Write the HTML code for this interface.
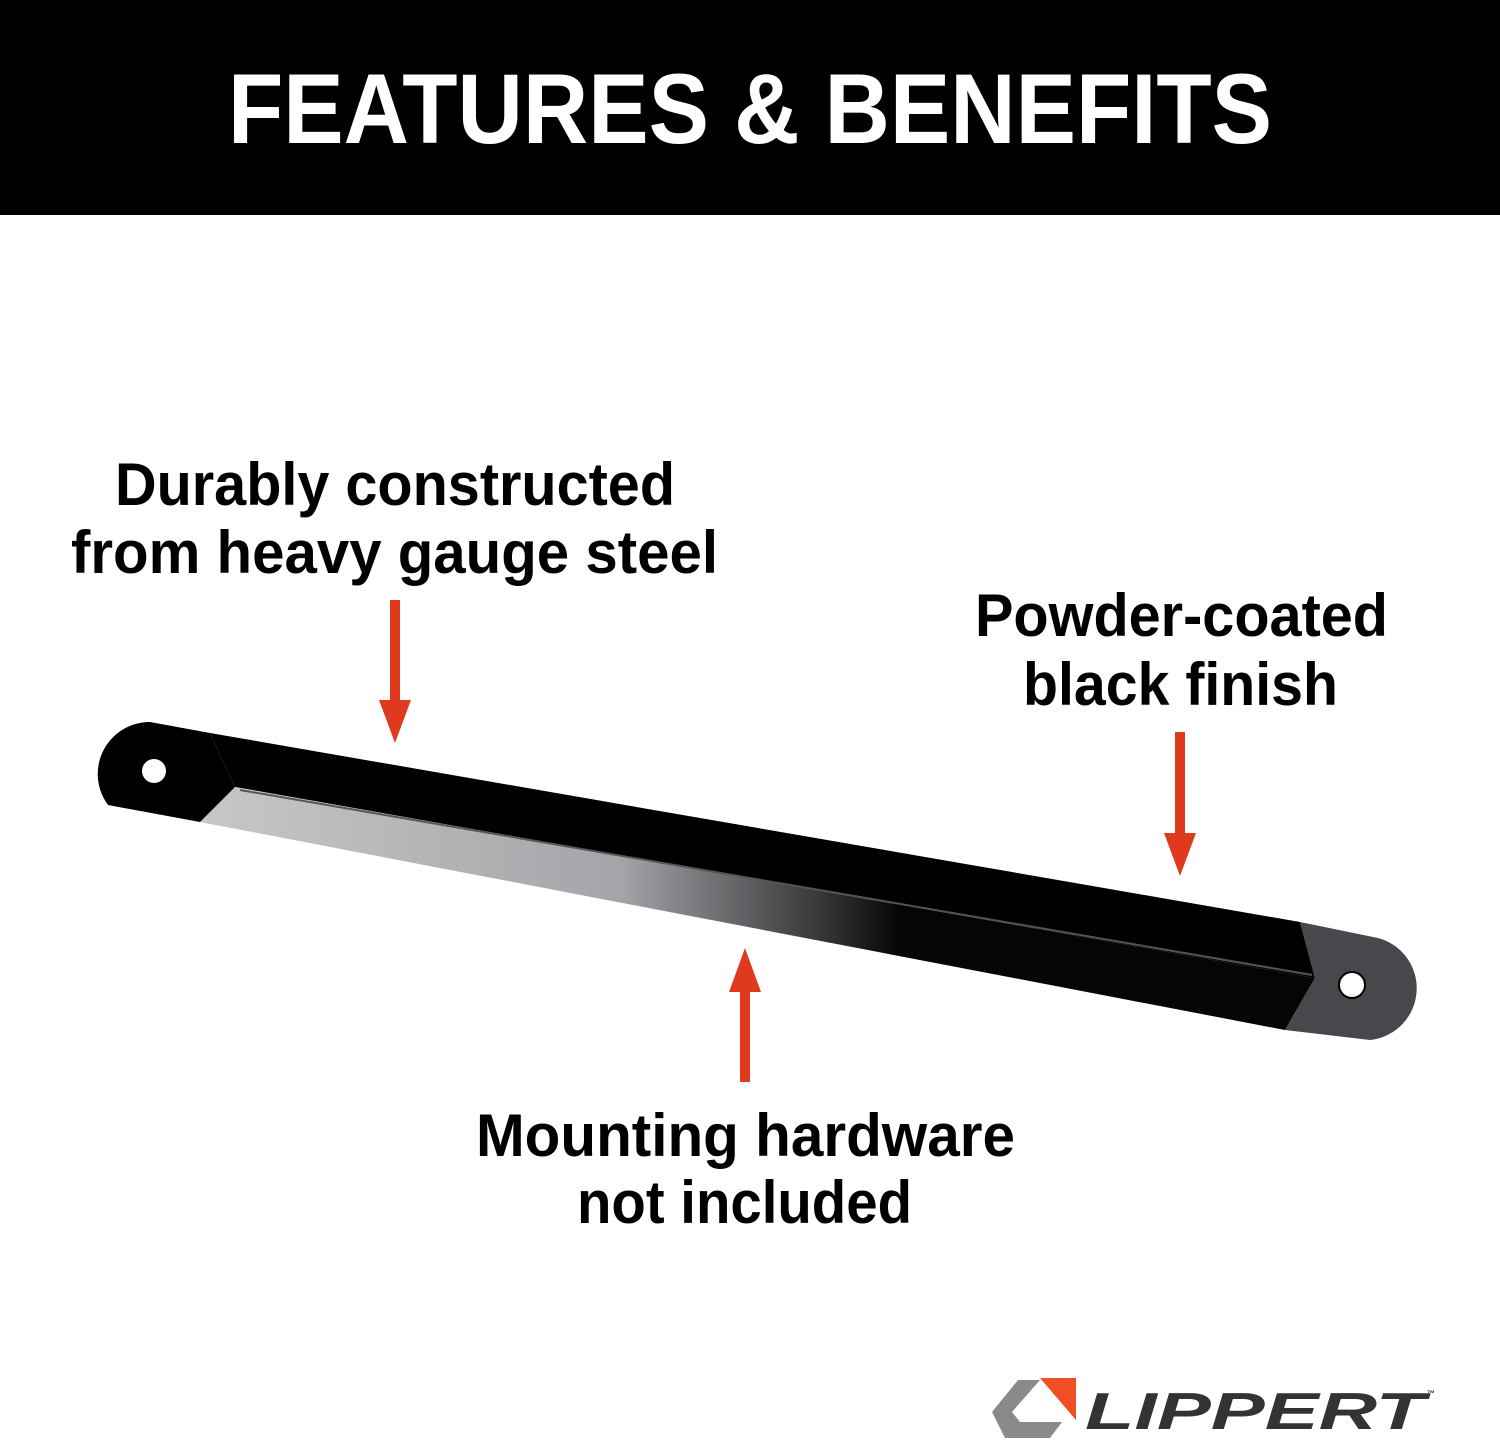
<!DOCTYPE html>
<html><head><meta charset="utf-8"><style>
html,body{margin:0;padding:0;background:#fff;}
svg{display:block;}
text{font-family:"Liberation Sans",sans-serif;font-weight:bold;}
</style></head><body>
<svg width="1500" height="1443" viewBox="0 0 1500 1443" xmlns="http://www.w3.org/2000/svg">
<defs>
<linearGradient id="g1" x1="200" y1="0" x2="900" y2="0" gradientUnits="userSpaceOnUse">
<stop offset="0" stop-color="#c8c6c8"/><stop offset="0.6" stop-color="#a6a4a8"/><stop offset="0.88" stop-color="#3a393c"/><stop offset="1" stop-color="#050505"/>
</linearGradient>
</defs>
<rect x="0" y="0" width="1500" height="215" fill="#000"/>
<text x="228" y="143" font-size="99" fill="#fff" textLength="1044" lengthAdjust="spacingAndGlyphs">FEATURES &amp; BENEFITS</text>

<text x="115" y="505" font-size="60" fill="#000" textLength="560" lengthAdjust="spacingAndGlyphs">Durably constructed</text>
<text x="71" y="573" font-size="60" fill="#000" textLength="647" lengthAdjust="spacingAndGlyphs">from heavy gauge steel</text>
<text x="975" y="636" font-size="60" fill="#000" textLength="413" lengthAdjust="spacingAndGlyphs">Powder-coated</text>
<text x="1023" y="705" font-size="60" fill="#000" textLength="315" lengthAdjust="spacingAndGlyphs">black finish</text>
<text x="476" y="1156" font-size="60" fill="#000" textLength="539" lengthAdjust="spacingAndGlyphs">Mounting hardware</text>
<text x="577" y="1223" font-size="60" fill="#000" textLength="335" lengthAdjust="spacingAndGlyphs">not included</text>

<!-- bar -->
<polygon points="210,733 1300,922 1315,978 235,787" fill="#000"/>
<polygon points="235,787 1315,978 1285,1030 200,822" fill="url(#g1)"/>
<line x1="240" y1="790" x2="1312" y2="975" stroke="#555" stroke-width="2"/>
<path d="M210,733 L150,722 A52,52 0 0 0 108,805 L200,822 L235,787 Z" fill="#000"/>
<circle cx="154" cy="771" r="12" fill="#fff"/>
<path d="M1300,922 L1378,938 A52,52 0 0 1 1370,1040 L1285,1030 L1315,978 Z" fill="#48474b"/>
<circle cx="1352" cy="985" r="13" fill="#fff" stroke="#000" stroke-width="2"/>

<!-- arrows -->
<g fill="#df3a1d">
<rect x="390" y="600" width="10" height="102"/>
<polygon points="379,700 411,700 395,743"/>
<rect x="1175" y="732" width="10" height="103"/>
<polygon points="1164,833 1196,833 1180,876"/>
<rect x="740" y="990" width="10" height="92"/>
<polygon points="729,992 761,992 745,948"/>
</g>

<!-- logo -->
<polygon points="1018,1380 1040,1380 1012,1412 1020,1422 1062,1422 1050,1438 1005,1438 992,1412" fill="#8a8a8c"/>
<polygon points="1040,1378 1076,1378 1076,1420" fill="#f04e23"/>
<text x="1085" y="1429" font-size="52" font-style="italic" fill="#333" textLength="340" lengthAdjust="spacingAndGlyphs">LIPPERT</text>
<text x="1427" y="1396" font-size="8" fill="#333">™</text>
</svg>
</body></html>
